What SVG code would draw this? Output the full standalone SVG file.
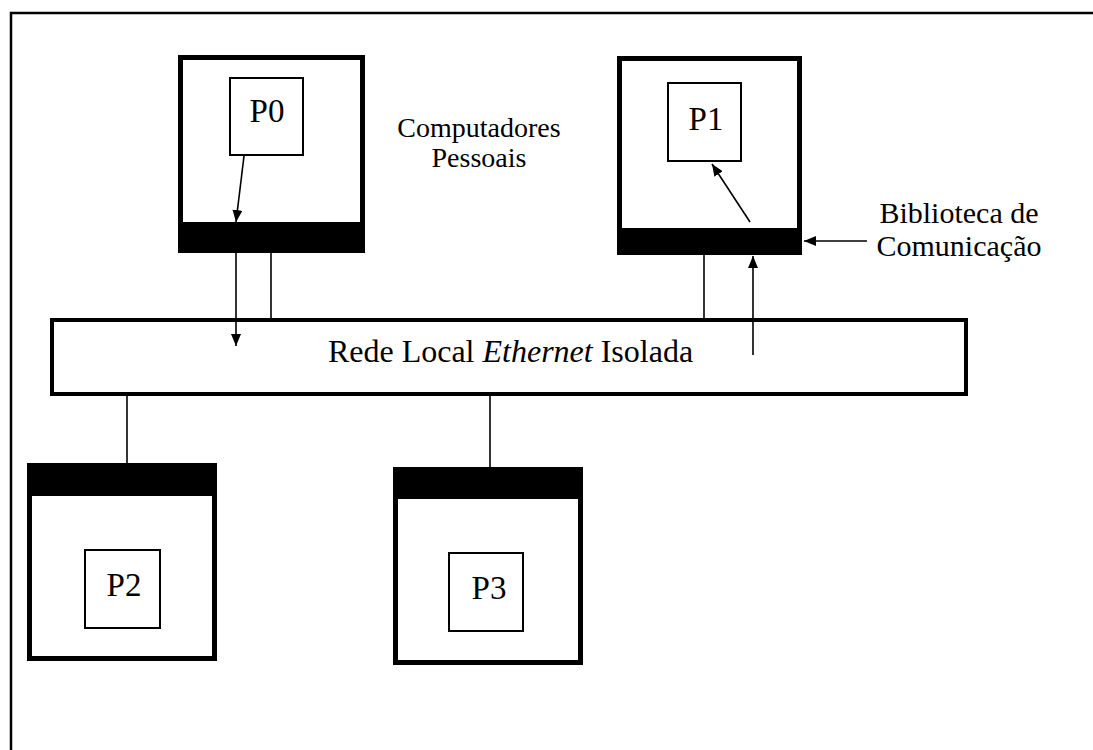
<svg xmlns="http://www.w3.org/2000/svg" width="1093" height="750" viewBox="0 0 1093 750">
<defs>
<style>
.frame{fill:none;stroke:#000;stroke-width:5}
.bar{fill:#000}
.proc{fill:#fff;stroke:#000;stroke-width:2}
.net{fill:#fff;stroke:#000;stroke-width:4}
.conn{stroke:#000;stroke-width:1.6;fill:none}
.lbl{font-family:"Liberation Serif","Times New Roman",serif;fill:#000}
</style>
<marker id="ah" markerUnits="userSpaceOnUse" markerWidth="12" markerHeight="10" refX="12" refY="5" orient="auto">
<path d="M0,0 L12,5 L0,10 Z" fill="#000"/>
</marker>
</defs>
<rect width="1093" height="750" fill="#fff"/>
<path d="M11,750 L11,13 L1093,13" fill="none" stroke="#000" stroke-width="2.5"/>

<g id="pc0">
<rect class="frame" x="180.5" y="57.5" width="182" height="193"/>
<rect class="bar" x="178" y="222" width="187" height="31"/>
<rect class="proc" x="230" y="78" width="73" height="77"/>
<text class="lbl" x="267" y="122" font-size="33" text-anchor="middle">P0</text>
</g>

<g id="pc1">
<rect class="frame" x="619.5" y="58.5" width="180" height="194"/>
<rect class="bar" x="617" y="228" width="185" height="27"/>
<rect class="proc" x="668" y="83" width="73" height="78"/>
<text class="lbl" x="706" y="130" font-size="33" text-anchor="middle">P1</text>
</g>

<g id="pc2">
<rect class="frame" x="29.5" y="465.5" width="185" height="193"/>
<rect class="bar" x="27" y="463" width="190" height="33"/>
<rect class="proc" x="85" y="550" width="75" height="78"/>
<text class="lbl" x="124" y="596" font-size="33" text-anchor="middle">P2</text>
</g>

<g id="pc3">
<rect class="frame" x="395.5" y="469.5" width="185" height="193"/>
<rect class="bar" x="393" y="467" width="190" height="32"/>
<rect class="proc" x="449" y="553" width="74" height="78"/>
<text class="lbl" x="489" y="599" font-size="33" text-anchor="middle">P3</text>
</g>

<g id="network">
<rect class="net" x="52" y="320" width="914" height="74"/>
<text class="lbl" x="510.5" y="362" font-size="32" text-anchor="middle">Rede Local <tspan font-style="italic">Ethernet</tspan> Isolada</text>
</g>

<g id="label-pc">
<text class="lbl" x="479" y="137" font-size="28" text-anchor="middle">Computadores</text>
<text class="lbl" x="479" y="167" font-size="28" text-anchor="middle">Pessoais</text>
</g>

<g id="label-lib">
<text class="lbl" x="959" y="223" font-size="30" text-anchor="middle">Biblioteca de</text>
<text class="lbl" x="959" y="256" font-size="30" text-anchor="middle">Comunicação</text>
</g>

<g id="connectors">
<line class="conn" x1="244" y1="156" x2="236" y2="222" marker-end="url(#ah)"/>
<line class="conn" x1="236" y1="253" x2="236" y2="346" marker-end="url(#ah)"/>
<line class="conn" x1="271" y1="253" x2="271" y2="318"/>
<line class="conn" x1="704" y1="255" x2="704" y2="318"/>
<line class="conn" x1="753" y1="355" x2="753" y2="256" marker-end="url(#ah)"/>
<line class="conn" x1="750" y1="222" x2="712" y2="164" marker-end="url(#ah)"/>
<line class="conn" x1="867" y1="241" x2="804" y2="241" marker-end="url(#ah)"/>
<line class="conn" x1="127" y1="396" x2="127" y2="463"/>
<line class="conn" x1="490" y1="396" x2="490" y2="467"/>
</g>
</svg>
